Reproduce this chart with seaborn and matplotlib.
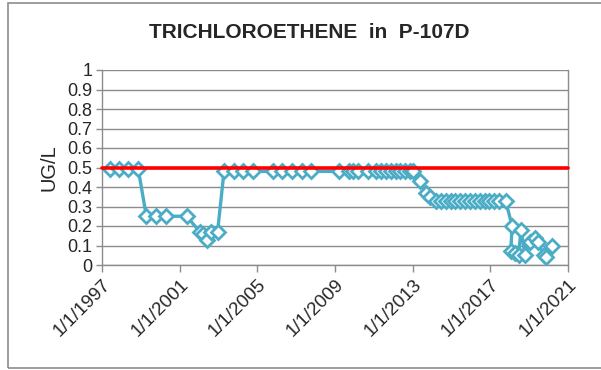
import matplotlib
matplotlib.use("Agg")
import matplotlib.pyplot as plt
from matplotlib.patches import Rectangle
import pandas as pd
import seaborn as sns

# Sample dates (in collection order) and trichloroethene results, ug/L
sample_dates = [
    "1997-06-01", "1997-11-15", "1998-05-01", "1998-11-15",
    "1999-04-15", "1999-10-15", "2000-04-15", "2001-05-15",
    "2002-01-15", "2002-03-15", "2002-06-01", "2002-08-15", "2002-12-15",
    "2003-04-15", "2003-10-15", "2004-04-15", "2004-10-15",
    "2005-10-15", "2006-04-15", "2006-10-15", "2007-04-15", "2007-10-15",
    "2009-03-15", "2009-09-15", "2009-12-15", "2010-03-15", "2010-09-15",
    "2011-02-15", "2011-05-15", "2011-08-15", "2011-11-15", "2012-02-15",
    "2012-05-15", "2012-08-15", "2012-11-15", "2013-01-15",
    "2013-05-15", "2013-09-15", "2013-11-15",
    "2014-03-15", "2014-06-15", "2014-09-15", "2014-12-15",
    "2015-03-15", "2015-06-15", "2015-09-15", "2015-12-15",
    "2016-03-15", "2016-06-15", "2016-09-15", "2016-12-15",
    "2017-03-15", "2017-06-15", "2017-10-15",
    "2018-02-15", "2018-01-20", "2018-04-15", "2018-06-15", "2018-08-01",
    "2018-10-15", "2019-01-15", "2019-04-15", "2019-06-15", "2019-10-01",
    "2019-11-15", "2020-03-01",
]
tce_values = [
    0.49, 0.49, 0.49, 0.49,
    0.25, 0.25, 0.25, 0.25,
    0.17, 0.16, 0.13, 0.17, 0.17,
    0.48, 0.48, 0.48, 0.48,
    0.48, 0.48, 0.48, 0.48, 0.48,
    0.48, 0.48, 0.48, 0.48, 0.48,
    0.48, 0.48, 0.48, 0.48, 0.48,
    0.48, 0.48, 0.48, 0.48,
    0.43, 0.37, 0.35,
    0.33, 0.33, 0.33, 0.33,
    0.33, 0.33, 0.33, 0.33,
    0.33, 0.33, 0.33, 0.33,
    0.33, 0.33, 0.33,
    0.20, 0.07, 0.06, 0.05, 0.18,
    0.05, 0.12, 0.14, 0.12, 0.05,
    0.04, 0.10,
]
limit_value = 0.5
x_tick_years = [1997, 2001, 2005, 2009, 2013, 2017, 2021]
y_ticks = [0, 0.1, 0.2, 0.3, 0.4, 0.5, 0.6, 0.7, 0.8, 0.9, 1]

df = pd.DataFrame({"date": pd.to_datetime(sample_dates), "value": tce_values})

sns.set_theme(style="white")
plt.rcParams["font.family"] = ["Liberation Sans", "DejaVu Sans"]

fig = plt.figure(figsize=(6.01, 3.70), dpi=100)
ax = fig.add_axes([102 / 601, 1 - 265 / 370, (568 - 102) / 601, (265 - 70) / 370])

line_color = "#4BACC6"
grid_color = "#8C8C8C"

ax.set_axisbelow(True)
ax.yaxis.grid(True, color=grid_color, linewidth=1.0)

sns.lineplot(
    data=df, x="date", y="value", sort=False, ax=ax,
    color=line_color, linewidth=2.4,
    marker="D", markersize=7, markerfacecolor="white",
    markeredgecolor=line_color, markeredgewidth=2.0,
    zorder=3,
)
ax.axhline(limit_value, color="#FF0000", linewidth=2.6, zorder=4, clip_on=False)

ax.set_xlim(pd.Timestamp("1997-01-01"), pd.Timestamp("2021-01-01"))
ax.set_ylim(0, 1)
ax.set_yticks(y_ticks)
ax.set_yticklabels([f"{v:g}" for v in y_ticks], fontsize=13)
xt = [pd.Timestamp(f"{y}-01-01") for y in x_tick_years]
ax.set_xticks(xt)
ax.set_xticklabels([f"1/1/{y}" for y in x_tick_years], fontsize=13.5,
                   rotation=45, ha="right", va="top", rotation_mode="anchor")

for side in ["left", "bottom", "right"]:
    ax.spines[side].set_visible(True)
    ax.spines[side].set_color(grid_color)
    ax.spines[side].set_linewidth(1.0)
ax.spines["top"].set_visible(False)

ax.tick_params(axis="x", direction="out", length=5, width=1, color=grid_color,
               pad=3, bottom=True)
ax.tick_params(axis="y", direction="out", length=4, width=1, color=grid_color,
               pad=3, left=True)

ax.set_xlabel("")
ax.set_ylabel("UG/L", fontsize=14.5, labelpad=6)

fig.text(309 / 601, 1 - 33 / 370, "TRICHLOROETHENE  in  P-107D",
         ha="center", va="center", fontsize=15, fontweight="bold")

fig.patches.append(Rectangle((8 / 601, 1 - 368 / 370), 1.0, 365 / 370,
                             transform=fig.transFigure, fill=False,
                             edgecolor="#8C8C8C", linewidth=1.2))

fig.savefig("out.png", dpi=100, facecolor="white")
